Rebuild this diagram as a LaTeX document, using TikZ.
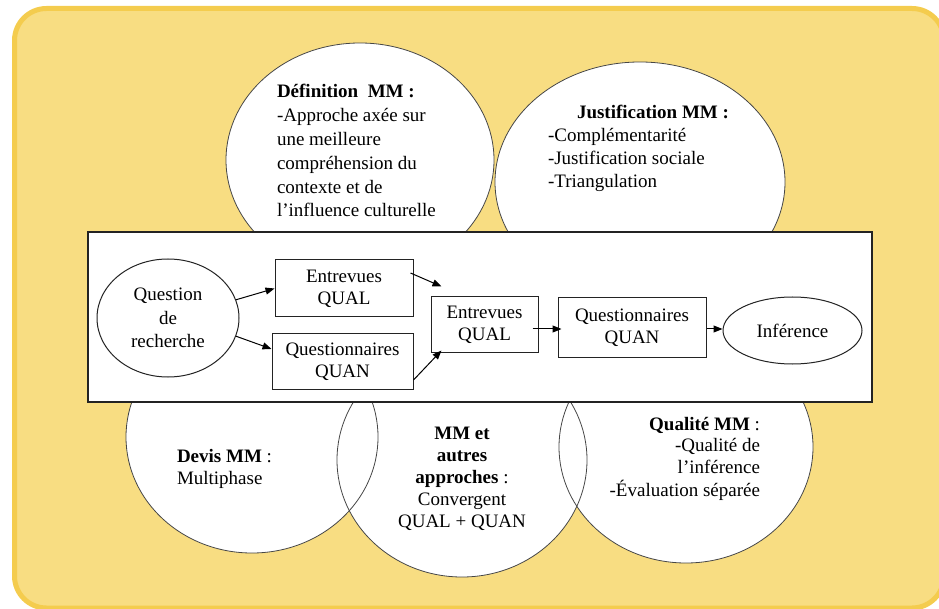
\documentclass[tikz,border=0pt]{standalone}
\usepackage{fontspec}
\setmainfont{Liberation Serif}
\usetikzlibrary{arrows.meta,calc,shapes.geometric}
\definecolor{bgfill}{RGB}{248,221,130}
\definecolor{bgline}{RGB}{244,204,78}
\definecolor{cline}{RGB}{70,70,70}
\definecolor{bline}{RGB}{35,35,35}
\tikzset{
  txt/.style={inner sep=0pt, outer sep=0pt, text=black},
  boxnode/.style={draw=bline, line width=1pt, fill=white, inner sep=0pt, align=center,
    font=\fontsize{19}{22}\selectfont},
  ellnode/.style={ellipse, draw=bline, line width=1pt, fill=white, inner sep=0pt, align=center,
    font=\fontsize{19}{23.5}\selectfont},
  flow/.style={draw=black, line width=1pt, -{Triangle[length=9pt,width=7pt]}},
  bubble/.style={draw=cline, line width=0.8pt},
}
\begin{document}
\begin{tikzpicture}[x=1pt,y=-1pt]
\useasboundingbox (0,0) rectangle (939,609);
% background panel
\draw[bgline, fill=bgfill, line width=5pt, rounded corners=32pt] (14.5,8.5) rectangle (944,608);
% top bubbles
\fill[white] (360,160) ellipse [x radius=134, y radius=117];
\fill[white] (640,182) ellipse [x radius=145, y radius=120];
\draw[bubble] (360,160) ellipse [x radius=134, y radius=117];
\draw[bubble] (640,182) ellipse [x radius=145, y radius=120];
% bottom bubbles
\fill[white] (252,437) ellipse [x radius=126, y radius=116];
\fill[white] (462,460) ellipse [x radius=125, y radius=117];
\fill[white] (686,447) ellipse [x radius=127, y radius=116];
\draw[bubble] (252,437) ellipse [x radius=126, y radius=116];
\draw[bubble] (462,460) ellipse [x radius=125, y radius=117];
\draw[bubble] (686,447) ellipse [x radius=127, y radius=116];
% central panel
\draw[bline, line width=1.2pt, fill=white] (88,232) rectangle (872,402);
% flow nodes
\node[ellnode, minimum width=142pt, minimum height=118pt] (q) at (168,318) {Question\\de\\recherche};
\node[boxnode, minimum width=138pt, minimum height=57pt] (e1) at (344,288.5) {Entrevues\\QUAL};
\node[boxnode, minimum width=141pt, minimum height=55pt] (q1) at (342.5,361.5) {Questionnaires\\QUAN};
\node[boxnode, minimum width=107pt, minimum height=55pt] (e2) at (484.5,324.5) {Entrevues\\QUAL};
\node[boxnode, minimum width=148pt, minimum height=59pt] (q2) at (632,327.5) {Questionnaires\\QUAN};
\node[ellnode, minimum width=139pt, minimum height=67pt] (inf) at (792.5,330.5) {Inférence};
% arrows
\draw[flow] (q.15) -- (e1.west);
\draw[flow] (q.-15) -- (q1.170);
\draw[flow] ($(e1.east)+(-3,-15.5)$) -- ($(e2.north west)+(11,-10)$);
\draw[flow] ($(q1.east)+(0,18.5)$) -- ($(e2.south west)+(11,-2)$);
\draw[flow] ($(e2.east)+(-6,4.5)$) -- ($(q2.west)+(4,1.5)$);
\draw[flow] ($(q2.east)+(0,1.5)$) -- ($(inf.west)+(0,-1.5)$);
% bubble texts
\node[txt, anchor=base west, font=\fontsize{19}{23.8}\selectfont] (defn) at (277,98)
  {\begin{tabular}[t]{@{}l@{}}\textbf{Définition\ \ MM :}\\-Approche axée sur\\une meilleure\\compréhension\ du\\contexte et de\\l’influence culturelle\end{tabular}};
\node[txt, anchor=base west, font=\fontsize{19}{22.7}\selectfont] (just) at (548,119)
  {\begin{tabular}[t]{@{}l@{}}\hspace*{29pt}\textbf{Justification MM :}\\-Complémentarité\\-Justification sociale\\-Triangulation\end{tabular}};
\node[txt, anchor=base west, font=\fontsize{19}{22}\selectfont] (devis) at (177,462)
  {\begin{tabular}[t]{@{}l@{}}\textbf{Devis MM} :\\Multiphase\end{tabular}};
\node[txt, anchor=base, font=\fontsize{19}{22}\selectfont] (autres) at (462,439)
  {\begin{tabular}[t]{@{}c@{}}\textbf{MM et}\\\textbf{autres}\\\textbf{approches} :\\Convergent\\QUAL + QUAN\end{tabular}};
\node[txt, anchor=base east, font=\fontsize{19}{21.7}\selectfont] (qual) at (760,430)
  {\begin{tabular}[t]{@{}r@{}}\textbf{Qualité MM} :\\-Qualité de\\l’inférence\\-Évaluation séparée\end{tabular}};
\end{tikzpicture}
\end{document}
